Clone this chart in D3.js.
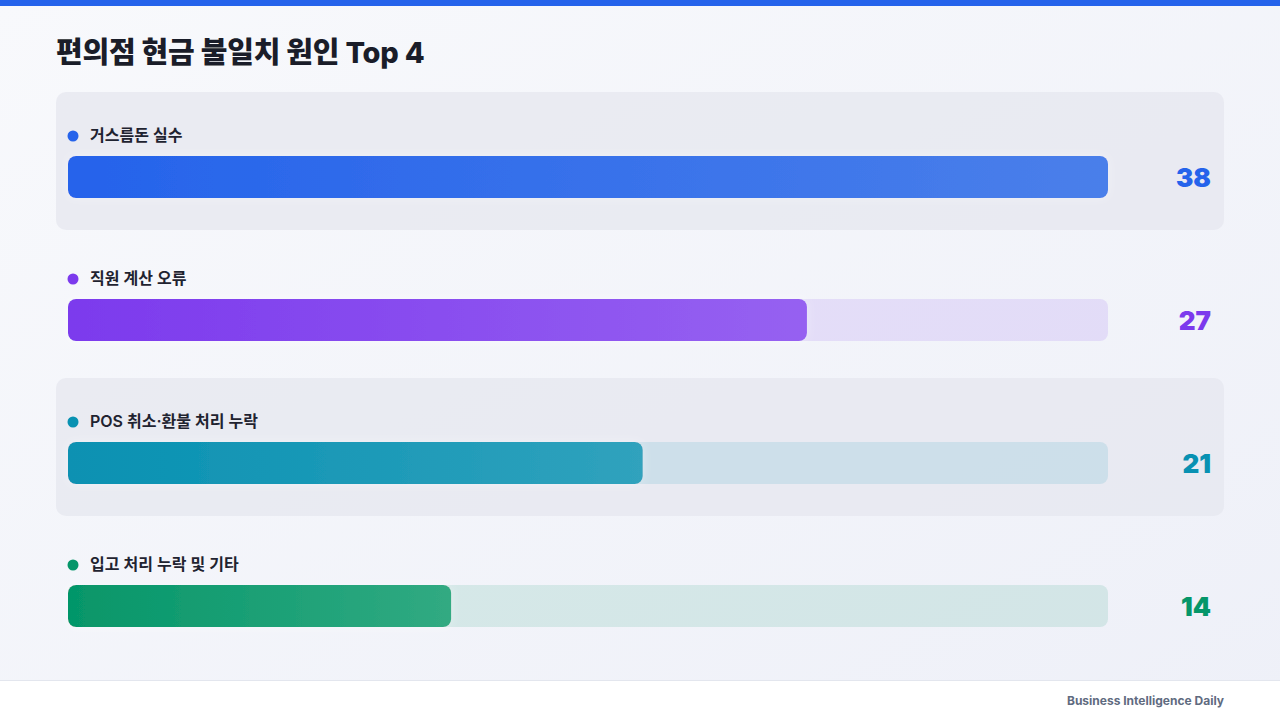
<!DOCTYPE html>
<html>
<head>
<meta charset="utf-8">
<script src="https://cdn.jsdelivr.net/npm/d3@7"></script>
<style>
  html, body { margin: 0; padding: 0; }
  body { width: 1280px; height: 720px; overflow: hidden; font-family: Inter, "Noto Sans CJK KR", sans-serif; }
</style>
</head>
<body>
<div id="chart"></div>
<script>
// data
const causes = ['거스름돈 실수', '직원 계산 오류', 'POS 취소·환불 처리 누락', '입고 처리 누락 및 기타'];
const counts = [38, 27, 21, 14];
const colorsFrom = ['#2563eb', '#7c3aed', '#0891b2', '#059669'];
const colorsTo = ['#4a7fea', '#9661f1', '#30a2bd', '#31aa82'];

const W = 1280, H = 720;
const svg = d3.select('#chart').append('svg')
    .attr('width', W)
    .attr('height', H);

const defs = svg.append('defs');

const bgGrad = defs.append('linearGradient')
    .attr('id', 'bg')
    .attr('x1', 0).attr('y1', 0).attr('x2', 1).attr('y2', 1);
bgGrad.append('stop').attr('offset', 0).attr('stop-color', '#f8f9fc');
bgGrad.append('stop').attr('offset', 1).attr('stop-color', '#eef0f8');

svg.append('rect').attr('width', W).attr('height', H).attr('fill', 'url(#bg)');
svg.append('rect').attr('width', W).attr('height', 6).attr('fill', '#2563eb');

svg.append('text')
    .attr('x', 56).attr('y', 63)
    .attr('font-size', 29)
    .attr('font-weight', 800)
    .attr('fill', '#1a1d29')
    .attr('letter-spacing', -0.2)
    .text('편의점 현금 불일치 원인 Top 4');

const barLeft = 68, barRight = 1108, barH = 42;
const x = d3.scaleLinear().domain([0, d3.max(counts)]).range([barLeft, barRight]);
const y = d3.scaleBand().domain(causes).range([92, 664]).padding(0);

// glow filter for the bar end
const glow = defs.append('filter').attr('id', 'glow')
    .attr('x', '-5%').attr('y', '-50%').attr('width', '110%').attr('height', '200%');
glow.append('feDropShadow').attr('dx', 0).attr('dy', 0).attr('stdDeviation', 5)
    .attr('flood-color', '#ffffff').attr('flood-opacity', 0.35);

causes.forEach((c, i) => {
    const g = defs.append('linearGradient').attr('id', 'bar' + i)
        .attr('x1', 0).attr('x2', 1).attr('y1', 0).attr('y2', 0);
    g.append('stop').attr('offset', 0).attr('stop-color', colorsFrom[i]);
    g.append('stop').attr('offset', 1).attr('stop-color', colorsTo[i]);
});

const rows = svg.selectAll('g.row')
    .data(causes)
    .enter()
    .append('g')
    .attr('class', 'row')
    .attr('transform', d => `translate(0, ${y(d)})`);

rows.filter((d, i) => i % 2 === 0)
    .append('rect')
    .attr('x', 56).attr('y', 0)
    .attr('width', 1168).attr('height', 138)
    .attr('rx', 10)
    .attr('fill', '#e6e7ef')
    .attr('opacity', 0.75);

rows.append('circle')
    .attr('cx', 73).attr('cy', 44)
    .attr('r', 5.5)
    .attr('fill', (d, i) => colorsFrom[i]);

rows.append('text')
    .attr('x', 90).attr('y', 49)
    .attr('font-size', 16)
    .attr('font-weight', 600)
    .attr('fill', '#1f2330')
    .text(d => d);

rows.append('rect')
    .attr('x', barLeft).attr('y', 64)
    .attr('width', barRight - barLeft).attr('height', barH)
    .attr('rx', 8)
    .attr('fill', (d, i) => colorsFrom[i])
    .attr('opacity', 0.12);

rows.append('rect')
    .attr('x', barLeft).attr('y', 64)
    .attr('width', (d, i) => x(counts[i]) - barLeft).attr('height', barH)
    .attr('rx', 8)
    .attr('fill', (d, i) => `url(#bar${i})`)
    .attr('filter', 'url(#glow)');

rows.append('text')
    .attr('x', 1211).attr('y', 95)
    .attr('text-anchor', 'end')
    .attr('font-size', 26)
    .attr('font-weight', 900)
    .attr('fill', (d, i) => colorsFrom[i])
    .text((d, i) => counts[i]);

// footer
svg.append('rect').attr('x', 0).attr('y', 680).attr('width', W).attr('height', 40).attr('fill', '#ffffff');
svg.append('line').attr('x1', 0).attr('x2', W).attr('y1', 680.5).attr('y2', 680.5).attr('stroke', '#e3e6ee');
svg.append('text')
    .attr('x', 1224).attr('y', 705)
    .attr('text-anchor', 'end')
    .attr('font-size', 12)
    .attr('font-weight', 700)
    .attr('fill', '#5f6b80')
    .text('Business Intelligence Daily');
</script>
</body>
</html>
